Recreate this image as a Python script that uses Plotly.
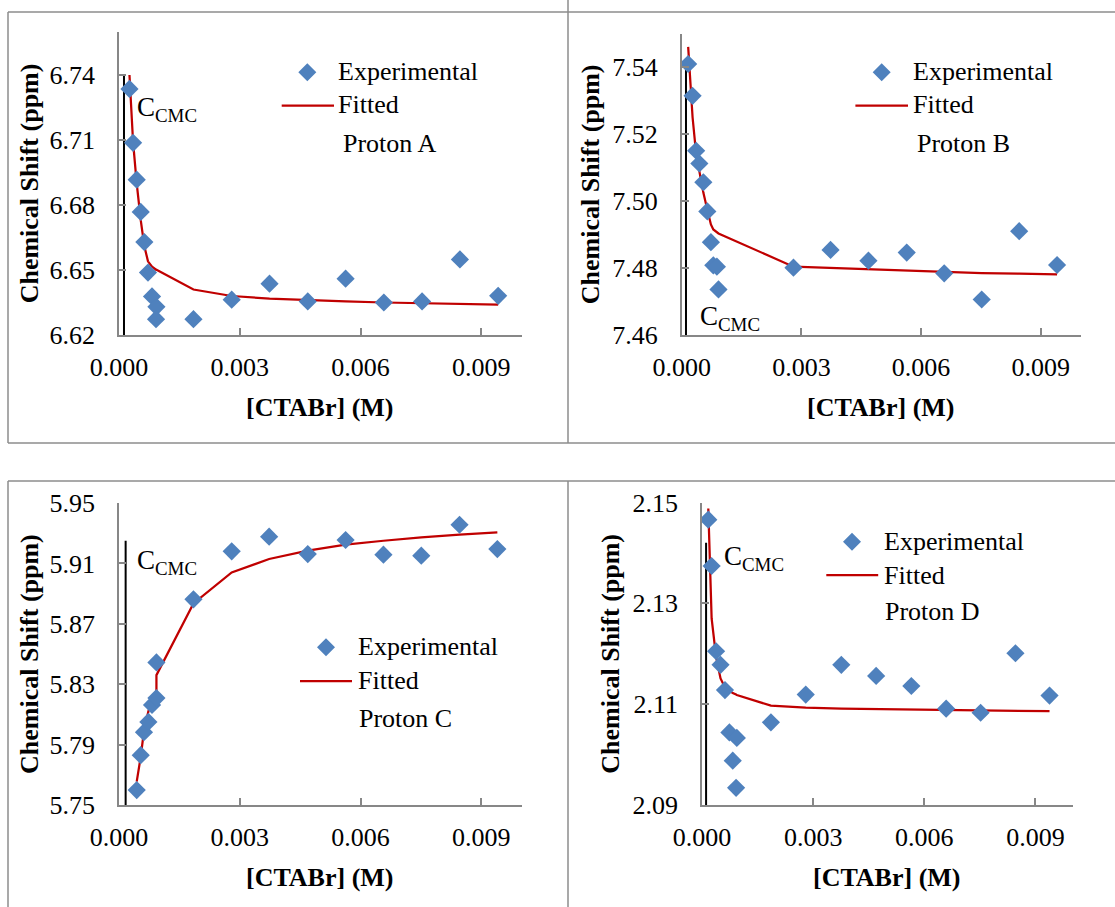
import plotly.graph_objects as go

# ---- data -------------------------------------------------------------
# Proton A
x_A = [0.00026, 0.00035, 0.00044, 0.00054, 0.00063, 0.00072, 0.00082, 0.00093, 0.00092,
       0.00185, 0.00280, 0.00374, 0.00469, 0.00563, 0.00658, 0.00753, 0.00847, 0.00942]
y_A = [6.7336, 6.7087, 6.6917, 6.6768, 6.6629, 6.6488, 6.6378, 6.6330, 6.6273,
       6.6273, 6.6363, 6.6437, 6.6355, 6.6460, 6.6350, 6.6355, 6.6549, 6.6381]
fit_A = [6.7400, 6.7090, 6.6900, 6.6730, 6.6610, 6.6540, 6.6515, 6.6500, 6.6502,
         6.6410, 6.6380, 6.6368, 6.6360, 6.6355, 6.6350, 6.6347, 6.6343, 6.6340]

# Proton B
x_B = [0.00016, 0.00027, 0.00036, 0.00044, 0.00054, 0.00064, 0.00073, 0.00079, 0.00088,
       0.00092, 0.00280, 0.00373, 0.00468, 0.00564, 0.00658, 0.00752, 0.00846, 0.00941]
y_B = [7.5409, 7.5314, 7.5150, 7.5112, 7.5056, 7.4969, 7.4877, 7.4808, 7.4804,
       7.4736, 7.4801, 7.4854, 7.4822, 7.4846, 7.4784, 7.4706, 7.4910, 7.4809]
fit_B = [7.5460, 7.5250, 7.5140, 7.5085, 7.5025, 7.4974, 7.4930, 7.4915, 7.4905,
         7.4903, 7.4804, 7.4800, 7.4795, 7.4791, 7.4788, 7.4785, 7.4783, 7.4781]

# Proton C
x_C = [0.00044, 0.00054, 0.00062, 0.00073, 0.00082, 0.00093, 0.00093, 0.00185,
       0.00280, 0.00373, 0.00469, 0.00563, 0.00657, 0.00751, 0.00846, 0.00940]
y_C = [5.7599, 5.7830, 5.7982, 5.8050, 5.8163, 5.8208, 5.8444, 5.8862,
       5.9180, 5.9277, 5.9162, 5.9255, 5.9158, 5.9151, 5.9356, 5.9195]
fit_C = [5.7655, 5.7820, 5.7990, 5.8120, 5.8190, 5.8240, 5.8360, 5.8835,
         5.9040, 5.9129, 5.9184, 5.9224, 5.9250, 5.9273, 5.9290, 5.9306]

# Proton D
x_D = [0.00017, 0.00026, 0.00038, 0.00050, 0.00062, 0.00074, 0.00083, 0.00092, 0.00094,
       0.00186, 0.00280, 0.00376, 0.00470, 0.00565, 0.00659, 0.00752, 0.00846, 0.00938]
y_D = [2.1466, 2.1374, 2.1205, 2.1178, 2.1128, 2.1044, 2.0988, 2.0934, 2.1033,
       2.1064, 2.1119, 2.1178, 2.1156, 2.1136, 2.1091, 2.1083, 2.1201, 2.1117]
fit_D = [2.1488, 2.1270, 2.1194, 2.1151, 2.1133, 2.1126, 2.1122, 2.1119, 2.1118,
         2.1097, 2.1093, 2.1091, 2.1090, 2.1089, 2.1088, 2.1087, 2.1087, 2.1086]

# critical micelle concentration markers (x, y-bottom, y-top)
cmc_A = [0.000124, 6.62, 6.74]
cmc_B = [0.000105, 7.46, 7.54]
cmc_C = [0.000165, 5.75, 5.925]
cmc_D = [0.000110, 2.09, 2.142]

# axis ranges and tick steps
y_range_A, y_step_A = [6.62, 6.76], 0.03
y_range_B, y_step_B = [7.46, 7.55], 0.02
y_range_C, y_step_C = [5.75, 5.95], 0.04
y_range_D, y_step_D = [2.09, 2.15], 0.02
x_range, x_step = [0.0, 0.01], 0.003

labels = ["Proton A", "Proton B", "Proton C", "Proton D"]

# ---- layout helpers ---------------------------------------------------
W, H = 1115, 907


def px(x):
    return x / W


def py(y):
    return 1 - y / H


FONT = "Liberation Serif, Times New Roman, Times, DejaVu Serif, serif"
AXIS_GREY = "#878787"
BORDER_GREY = "#8c8c8c"
BLUE = "#4F81BD"
RED = "#C00000"

panels = [
    dict(x=x_A, y=y_A, fit=fit_A, cmc=cmc_A, yr=y_range_A, ys=y_step_A,
         dom_x=(119, 521.5), dom_y=(31.7, 335),
         cmc_lbl=(0.00040, 6.7243),
         leg=dict(dx=307.3, dy=72.3, lx=(281.7, 334), ly=105.7,
                  tx=(338.3, 338.3, 342.7), ty=(71.7, 105, 143.3)),
         ytitle_x=29, xtitle_y=407),
    dict(x=x_B, y=y_B, fit=fit_B, cmc=cmc_B, yr=y_range_B, ys=y_step_B,
         dom_x=(681.8, 1080.6), dom_y=(33.5, 335),
         cmc_lbl=(0.00041, 7.4650),
         leg=dict(dx=881.7, dy=72.3, lx=(855.4, 908), ly=105.7,
                  tx=(913.3, 913.3, 916.8), ty=(71.7, 105, 143.3)),
         ytitle_x=590, xtitle_y=407),
    dict(x=x_C, y=y_C, fit=fit_C, cmc=cmc_C, yr=y_range_C, ys=y_step_C,
         dom_x=(119, 521.5), dom_y=(503, 805),
         cmc_lbl=(0.00040, 5.9107),
         leg=dict(dx=326, dy=647.3, lx=(300, 352), ly=681,
                  tx=(358, 358, 359), ty=(646.7, 680.7, 718.3)),
         ytitle_x=29, xtitle_y=877),
    dict(x=x_D, y=y_D, fit=fit_D, cmc=cmc_D, yr=y_range_D, ys=y_step_D,
         dom_x=(702, 1072.5), dom_y=(502.5, 805),
         cmc_lbl=(0.00055, 2.1389),
         leg=dict(dx=852, dy=541.7, lx=(826.3, 878.2), ly=575,
                  tx=(883.5, 883.5, 885), ty=(541.7, 575, 611.7)),
         ytitle_x=611, xtitle_y=877),
]

fig = go.Figure()
annotations = []
shapes = []
layout_axes = {}

for i, p in enumerate(panels, start=1):
    xa = "x" if i == 1 else f"x{i}"
    ya = "y" if i == 1 else f"y{i}"
    xkey = "xaxis" if i == 1 else f"xaxis{i}"
    ykey = "yaxis" if i == 1 else f"yaxis{i}"

    # CMC marker line
    fig.add_trace(go.Scatter(
        x=[p["cmc"][0], p["cmc"][0]], y=[p["cmc"][1], p["cmc"][2]],
        mode="lines", line=dict(color="black", width=2),
        xaxis=xa, yaxis=ya, showlegend=False, hoverinfo="skip"))
    # fitted curve
    fig.add_trace(go.Scatter(
        x=p["x"], y=p["fit"], mode="lines", name="Fitted",
        line=dict(color=RED, width=2.25),
        xaxis=xa, yaxis=ya, showlegend=False))
    # experimental points
    fig.add_trace(go.Scatter(
        x=p["x"], y=p["y"], mode="markers", name="Experimental",
        marker=dict(symbol="diamond", size=14, color=BLUE, line=dict(width=0)),
        xaxis=xa, yaxis=ya, showlegend=False))

    x0, x1 = p["dom_x"]
    y0, y1 = p["dom_y"]
    layout_axes[xkey] = dict(
        domain=[px(x0), px(x1)], anchor=ya, range=x_range, automargin=False,
        tick0=0, dtick=x_step, tickformat=".3f",
        showline=True, linecolor=AXIS_GREY, linewidth=1.5,
        ticks="inside", ticklen=7, tickwidth=1.5, tickcolor=AXIS_GREY,
        showgrid=False, zeroline=False,
        tickfont=dict(family=FONT, size=26, color="black"),
        ticklabelstandoff=8)
    layout_axes[ykey] = dict(
        domain=[py(y1), py(y0)], anchor=xa, range=p["yr"], automargin=False,
        tick0=p["yr"][0], dtick=p["ys"], tickformat=".2f",
        showline=True, linecolor=AXIS_GREY, linewidth=1.5,
        ticks="inside", ticklen=7, tickwidth=1.5, tickcolor=AXIS_GREY,
        showgrid=False, zeroline=False,
        tickfont=dict(family=FONT, size=26, color="black"),
        ticklabelstandoff=17)

    # axis titles
    annotations.append(dict(
        x=px((x0 + x1) / 2), y=py(p["xtitle_y"]), xref="paper", yref="paper",
        text="[CTABr] (M)", showarrow=False,
        font=dict(family=FONT, size=26, color="black", weight="bold"),
        xanchor="center", yanchor="middle"))
    annotations.append(dict(
        x=px(p["ytitle_x"]), y=py((y0 + y1) / 2), xref="paper", yref="paper",
        text="Chemical Shift (ppm)", showarrow=False, textangle=-90,
        font=dict(family=FONT, size=26, color="black", weight="bold"),
        xanchor="center", yanchor="middle"))

    # CMC label
    annotations.append(dict(
        x=p["cmc_lbl"][0], y=p["cmc_lbl"][1], xref=xa, yref=ya,
        text="C<sub>CMC</sub>", showarrow=False,
        font=dict(family=FONT, size=27, color="black"),
        xanchor="left", yanchor="middle"))

    # legend block
    lg = p["leg"]
    shapes.append(dict(
        type="path", xref="paper", yref="paper",
        xsizemode="pixel", ysizemode="pixel",
        xanchor=px(lg["dx"]), yanchor=py(lg["dy"]),
        path="M 0 9 L 9 0 L 0 -9 L -9 0 Z",
        fillcolor=BLUE, line=dict(width=0)))
    shapes.append(dict(
        type="line", xref="paper", yref="paper",
        x0=px(lg["lx"][0]), x1=px(lg["lx"][1]),
        y0=py(lg["ly"]), y1=py(lg["ly"]),
        line=dict(color=RED, width=2.25)))
    for txt, tx, ty in zip(["Experimental", "Fitted", labels[i - 1]], lg["tx"], lg["ty"]):
        annotations.append(dict(
            x=px(tx), y=py(ty), xref="paper", yref="paper", text=txt,
            showarrow=False, font=dict(family=FONT, size=26, color="black"),
            xanchor="left", yanchor="middle", xshift=-2))

# panel frames
frame = [
    ((8, 12), (1115, 12)),
    ((8, 12), (8, 443)),
    ((568, 0), (568, 443)),
    ((8, 443), (1115, 443)),
    ((8, 481), (1115, 481)),
    ((8, 481), (8, 907)),
    ((568, 481), (568, 907)),
]
for (a, b) in frame:
    shapes.append(dict(
        type="line", xref="paper", yref="paper",
        x0=px(a[0]), y0=py(a[1]), x1=px(b[0]), y1=py(b[1]),
        line=dict(color=BORDER_GREY, width=1.5)))

fig.update_layout(
    template="none",
    width=W, height=H,
    margin=dict(l=0, r=0, t=0, b=0, autoexpand=False),
    paper_bgcolor="white", plot_bgcolor="white",
    font=dict(family=FONT, color="black"),
    showlegend=False,
    annotations=annotations, shapes=shapes,
    **layout_axes)

fig.write_html("out.html")
